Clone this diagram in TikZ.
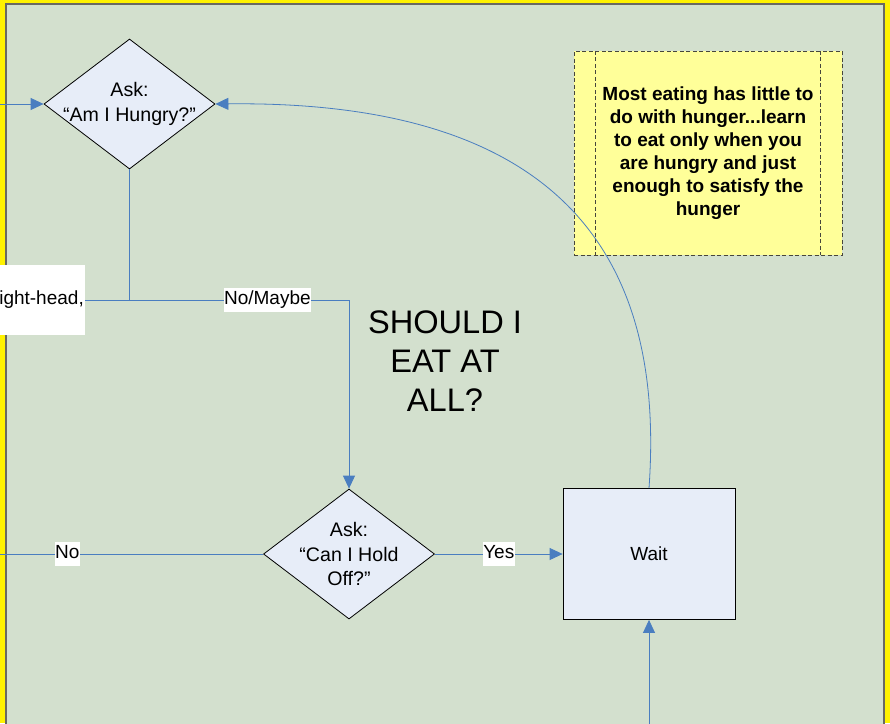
\documentclass[tikz,border=0pt]{standalone}
\usepackage{fontspec}
\setmainfont{Liberation Sans}
\usetikzlibrary{shapes.geometric, positioning, arrows.meta}

\definecolor{panelgreen}{RGB}{211,224,206}
\definecolor{panelgray}{RGB}{105,105,98}
\definecolor{boxblue}{RGB}{231,237,248}
\definecolor{lineblue}{RGB}{74,126,192}
\definecolor{noteyellow}{RGB}{255,255,153}
\definecolor{notegray}{RGB}{70,70,60}

\begin{document}
\begin{tikzpicture}[x=1pt,y=-1pt,on grid,
    font=\fontsize{19pt}{24pt}\selectfont,
    decision/.style={diamond, draw=black, fill=boxblue, line width=0.8pt,
        minimum width=171pt, minimum height=130pt, inner sep=-12pt, align=center,
        font=\fontsize{19.6pt}{24.5pt}\selectfont},
    process/.style={rectangle, draw=black, fill=boxblue, line width=0.8pt,
        minimum width=172pt, minimum height=131pt},
    flow/.style={draw=lineblue, line width=0.8pt, -{Triangle[length=13pt,width=12pt]}},
    link/.style={draw=lineblue, line width=0.8pt},
    lbl/.style={fill=white, inner xsep=0.5pt, inner ysep=2.5pt, text height=14pt, text depth=5pt},
    notebox/.style={draw=notegray, fill=noteyellow, dash pattern=on 4pt off 2.5pt,
        minimum width=268pt, minimum height=204pt, align=center,
        font=\bfseries\fontsize{19pt}{23pt}\selectfont}]

    \useasboundingbox (0,0) rectangle (890,723);
    \clip (0,0) rectangle (890,723);

    % background and panel
    \fill[yellow] (0,0) rectangle (890,723);
    \draw[fill=panelgreen, draw=panelgray, line width=2pt] (6,4) rectangle (884,760);

    \node[decision] (hungry) at (129.5,104) {Ask:\\“Am I Hungry?”};
    \node[decision] (hold) [below right=450pt and 219.5pt of hungry] {Ask:\\“Can I Hold\\Off?”};
    \node[process] (wait) [right=300pt of hold] {Wait};

    \node[fill=white, anchor=east, text width=96pt, align=right, minimum height=70pt,
        inner xsep=1pt] (sidetext) at (85,300) {ight-head,};

    \node[notebox] (note) at (708,153) {Most eating has little to\\do with hunger...learn\\to eat only when you\\are hungry and just\\enough to satisfy the\\hunger};
    \draw[notegray, dash pattern=on 4pt off 2.5pt]
        ([xshift=21pt]note.north west) -- ([xshift=21pt]note.south west)
        ([xshift=-22pt]note.north east) -- ([xshift=-22pt]note.south east);

    \node[font=\fontsize{32.6pt}{39pt}\selectfont, align=center] (title) at (445,361) {SHOULD I\\EAT AT\\ALL?};

    \coordinate (inlet) at (-5,104);
    \coordinate (outlet) at (-5,554);
    \coordinate (below_wait) at (649,740);
    \coordinate (fork) at (hungry.south |- sidetext.east);

    % connectors
    \draw[flow] (inlet) -- (hungry.west);
    \draw[link] (hungry.south) -- (fork) -- (sidetext.east);
    \draw[flow] (fork) -| node[lbl, pos=0.314] {No/Maybe} (hold.north);
    \draw[link] (hold.west) -- node[lbl, pos=0.73] {No} (outlet);
    \draw[flow] (hold.east) -- node[lbl] {Yes} (wait.west);
    \draw[flow] (below_wait) -- (wait.south);
    \draw[flow] (wait.north) .. controls (665,265) and (570,100) .. (hungry.east);

\end{tikzpicture}
\end{document}
